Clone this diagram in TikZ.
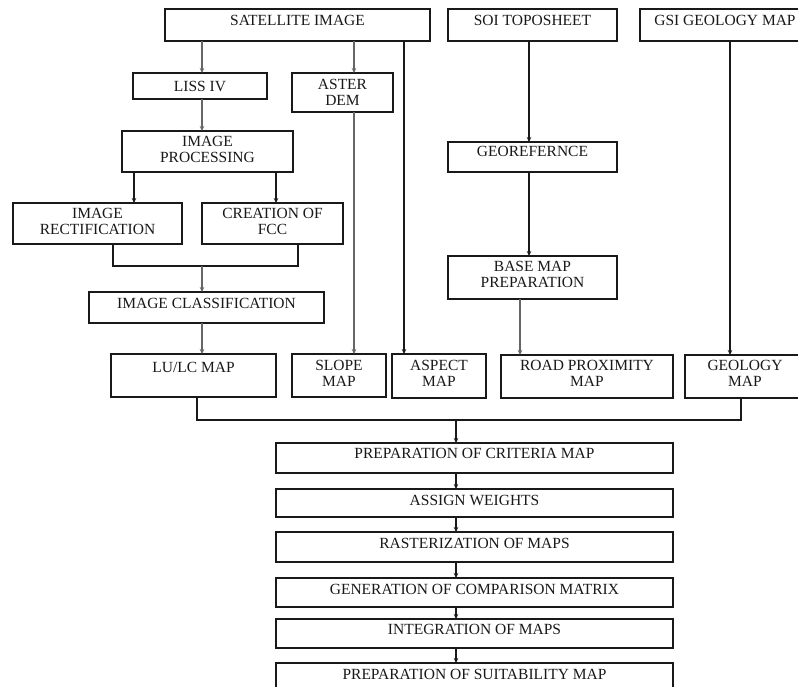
\documentclass[tikz,border=0pt]{standalone}
\usepackage{fontspec}
\setmainfont{Liberation Serif}
\usetikzlibrary{arrows.meta}
\tikzset{
  box/.style={draw=black!90, line width=1.5pt, inner sep=0pt, outer sep=0pt},
  lbl/.style={inner sep=0pt, align=center, text=black!90,
    font=\fontsize{15.5}{16}\selectfont},
  tip/.style={-{Stealth[length=5pt,width=4.5pt]}},
  arr/.style={line width=1.3pt, draw=black!90, tip},
  garr/.style={line width=1.3pt, draw=black!60, tip},
  ln/.style={line width=1.3pt, draw=black!90},
}
% name, x1, y1, x2, y2, text x, text y, text
\newcommand\bx[8]{%
  \node[box, minimum width={(#4-#2)*1pt}, minimum height={(#5-#3)*1pt}]
    (#1) at ({(#2+#4)/2},{(#3+#5)/2}) {};
  \node[lbl] (#1-t) at (#6,#7) {#8};
}
\begin{document}
\begin{tikzpicture}[x=1pt,y=-1pt]
\useasboundingbox (0,0) rectangle (798,687);
\clip (0,0) rectangle (798,687);
\fill[white] (0,0) rectangle (798,687);

% top row
\bx{sat}{165}{9}{430}{41}{297.5}{20}{SATELLITE IMAGE}
\bx{soi}{448}{9}{617}{41}{532.5}{20}{SOI TOPOSHEET}
\bx{gsi}{640}{9}{812}{41}{725}{20}{GSI GEOLOGY MAP}

% left branch
\bx{liss}{133}{73}{267}{99}{200}{86}{LISS IV}
\bx{aster}{292}{73}{393}{112}{342.5}{92.5}{ASTER\\DEM}
\bx{proc}{122}{131}{293}{172}{207.5}{149.5}{IMAGE\\PROCESSING}
\bx{rect}{13}{203}{182}{244}{97.5}{221}{IMAGE\\RECTIFICATION}
\bx{fcc}{202}{203}{343}{244}{272.5}{221}{CREATION OF\\FCC}
\bx{cls}{89}{292}{324}{323}{206.5}{303}{IMAGE CLASSIFICATION}

% middle branch
\bx{geo}{448}{142}{617}{172}{532.5}{151}{GEOREFERNCE}
\bx{base}{448}{256}{617}{299}{532.5}{274.5}{BASE MAP\\PREPARATION}

% map row
\bx{lulc}{111}{354}{276}{397}{193.5}{367}{LU/LC MAP}
\bx{slope}{292}{354}{386}{397}{339}{373}{SLOPE\\MAP}
\bx{aspect}{392}{354}{486}{398}{439}{373}{ASPECT\\MAP}
\bx{road}{501}{355}{673}{398}{587}{373}{ROAD PROXIMITY\\MAP}
\bx{geol}{685}{355}{805}{398}{745}{373}{GEOLOGY\\MAP}

% bottom chain
\bx{crit}{276}{443}{673}{473}{474.5}{453}{PREPARATION OF CRITERIA MAP}
\bx{wts}{276}{489}{673}{517}{474.5}{500}{ASSIGN WEIGHTS}
\bx{rast}{276}{532}{673}{562}{474.5}{543}{RASTERIZATION OF MAPS}
\bx{gen}{276}{578}{673}{607}{474.5}{589}{GENERATION OF COMPARISON MATRIX}
\bx{integ}{276}{619}{673}{648}{474.5}{629}{INTEGRATION OF MAPS}
\bx{suit}{276}{663}{673}{705}{474.5}{674}{PREPARATION OF SUITABILITY MAP}

% x positions
\coordinate (xl) at (202,0);
\coordinate (xa) at (354,0);
\coordinate (xs) at (404,0);
\coordinate (xr) at (134,0);
\coordinate (xf) at (276,0);
\coordinate (xt) at (529,0);
\coordinate (xb) at (520,0);
\coordinate (xg) at (730,0);
\coordinate (xc) at (456,0);
% merge points
\coordinate (m1a) at (113,266);
\coordinate (m1b) at (298,266);
\coordinate (m1c) at (202,266);
\coordinate (m2a) at (197,420);
\coordinate (m2b) at (741,420);
\coordinate (m2c) at (456,420);

% connectors
\draw[garr] (sat.south -| xl) -- (liss.north -| xl);
\draw[garr] (sat.south -| xa) -- (aster.north -| xa);
\draw[arr] (sat.south -| xs) -- (aspect.north -| xs);
\draw[garr] (liss.south -| xl) -- (proc.north -| xl);
\draw[arr] (proc.south -| xr) -- (rect.north -| xr);
\draw[arr] (proc.south -| xf) -- (fcc.north -| xf);
\draw[ln] (rect.south -| m1a) -- (m1a) -- (m1b) -- (fcc.south -| m1b);
\draw[garr] (m1c) -- (cls.north -| m1c);
\draw[garr] (cls.south -| xl) -- (lulc.north -| xl);
\draw[garr] (aster.south -| xa) -- (slope.north -| xa);
\draw[arr] (soi.south -| xt) -- (geo.north -| xt);
\draw[arr] (geo.south -| xt) -- (base.north -| xt);
\draw[garr] (base.south -| xb) -- (road.north -| xb);
\draw[arr] (gsi.south -| xg) -- (geol.north -| xg);
\draw[ln] (lulc.south -| m2a) -- (m2a) -- (m2b) -- (geol.south -| m2b);
\draw[arr] (m2c) -- (crit.north -| m2c);
\draw[arr] (crit.south -| xc) -- (wts.north -| xc);
\draw[arr] (wts.south -| xc) -- (rast.north -| xc);
\draw[arr] (rast.south -| xc) -- (gen.north -| xc);
\draw[arr] (gen.south -| xc) -- (integ.north -| xc);
\draw[arr] (integ.south -| xc) -- (suit.north -| xc);
\end{tikzpicture}
\end{document}
